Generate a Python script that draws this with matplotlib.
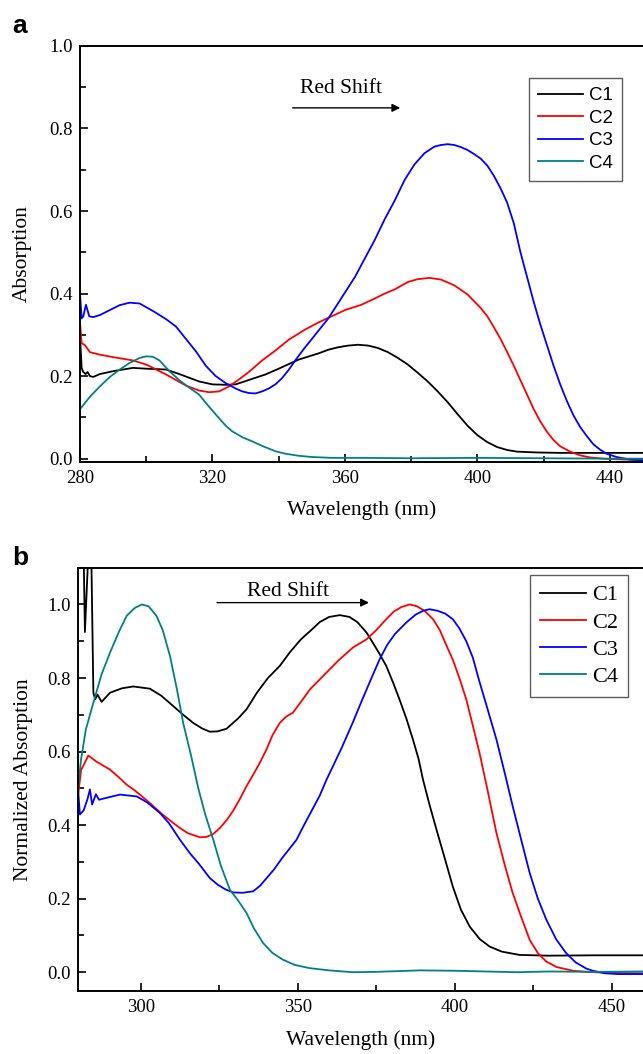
import numpy as np
import matplotlib
matplotlib.use("Agg")
import matplotlib.pyplot as plt
from matplotlib.ticker import MultipleLocator, FormatStrFormatter

plt.rcParams['font.family'] = 'serif'
plt.rcParams['font.serif'] = ['Liberation Serif', 'DejaVu Serif']

# ---- panel a : absorption ----
a_wl1 = [280, 280.5, 281, 281.7, 282.3, 283, 284, 286, 290, 296, 300, 306, 310, 316, 320, 324, 327, 330, 336,
         340, 346, 352, 355, 358, 361, 364, 367, 370, 373, 376, 379, 382, 385, 388, 391, 394, 397, 400, 403, 406,
         409, 412, 418, 425, 435, 450]
a_c1 = [0.30, 0.22, 0.21, 0.205, 0.21, 0.2, 0.198, 0.205, 0.212, 0.22, 0.218, 0.216, 0.205, 0.187, 0.18, 0.179,
        0.18, 0.188, 0.204, 0.218, 0.24, 0.255, 0.264, 0.27, 0.274, 0.276, 0.274, 0.268, 0.258, 0.244, 0.228, 0.208,
        0.187, 0.163, 0.137, 0.108, 0.08, 0.057, 0.04, 0.028, 0.021, 0.017, 0.015, 0.014, 0.014, 0.014]

a_wl2 = [280, 280.5, 281.5, 283, 286, 290, 296, 300, 306, 312, 316, 319, 322, 325, 328, 331, 335, 339, 343, 348,
         352, 356, 360, 365, 369, 372, 375, 379, 382, 385.5, 389, 393, 397, 401, 403, 405, 407, 409, 411, 413, 415,
         417, 419, 421, 423, 425, 428, 431, 434, 438, 444, 450]
a_c2 = [0.33, 0.28, 0.275, 0.258, 0.252, 0.246, 0.238, 0.228, 0.204, 0.177, 0.165, 0.161, 0.163, 0.175, 0.192,
        0.21, 0.238, 0.262, 0.288, 0.313, 0.33, 0.345, 0.36, 0.373, 0.388, 0.4, 0.41, 0.428, 0.435, 0.438, 0.434,
        0.42, 0.398, 0.365, 0.345, 0.318, 0.29, 0.258, 0.225, 0.19, 0.155, 0.12, 0.09, 0.065, 0.045, 0.03, 0.017,
        0.008, 0.003, 0.0, -0.002, -0.003]

a_wl3 = [280, 280.5, 281, 281.8, 282.8, 284, 286, 289, 292, 295, 298, 302, 306, 309, 312, 315, 318, 321, 324, 327,
         329, 331, 333, 335, 337, 339, 341, 343, 345, 347.5, 350, 352.5, 355, 357, 359, 361, 363, 366, 369, 372,
         375, 378, 381, 384, 387, 389, 391, 393, 395, 397, 399, 401, 403, 405, 407, 409, 411, 413, 415, 417, 419,
         421, 423, 425, 427, 429, 431, 433, 435, 437, 439, 442, 446, 450]
a_c3 = [0.40, 0.34, 0.345, 0.373, 0.345, 0.343, 0.348, 0.36, 0.372, 0.378, 0.376, 0.358, 0.338, 0.32, 0.29, 0.26,
        0.225, 0.2, 0.183, 0.17, 0.163, 0.159, 0.158, 0.163, 0.17, 0.18, 0.195, 0.215, 0.238, 0.265, 0.29, 0.315,
        0.34, 0.365, 0.39, 0.415, 0.44, 0.485, 0.53, 0.58, 0.625, 0.675, 0.713, 0.74, 0.756, 0.76, 0.762, 0.76,
        0.755, 0.748, 0.738, 0.727, 0.71, 0.685, 0.655, 0.62, 0.57, 0.5, 0.44, 0.38, 0.325, 0.275, 0.225, 0.18,
        0.14, 0.105, 0.077, 0.055, 0.035, 0.022, 0.012, 0.004, -0.002, -0.004]

a_wl4 = [280, 283, 286, 289, 292, 295, 298, 300, 302, 304, 307, 310, 313, 316, 318, 321, 324, 326, 329, 332, 335,
         339, 342, 346, 350, 356, 365, 380, 400, 420, 440, 450]
a_c4 = [0.12, 0.15, 0.175, 0.198, 0.216, 0.232, 0.244, 0.248, 0.247, 0.238, 0.212, 0.19, 0.172, 0.155, 0.135,
        0.107, 0.08, 0.066, 0.052, 0.042, 0.031, 0.018, 0.012, 0.007, 0.004, 0.002, 0.002, 0.001, 0.002, 0.001,
        0.0, 0.0]

# ---- panel b : normalized absorption ----
b_wl1 = [280, 281.5, 282.2, 283.6, 284.3, 284.9, 285.5, 286.2, 287.5, 290.2, 294, 297.6, 302.9, 306.5, 310.3,
         313.5, 316.7, 319.5, 322, 324.5, 327.3, 331, 333.7, 337, 340.5, 344.3, 347.5, 351, 354.9, 357, 360, 363.4,
         366.5, 369, 371.9, 374, 376.1, 378.2, 380.5, 382.5, 384.6, 386.7, 388.5, 389.9, 392, 394.2, 396.5, 399.4,
         402, 404.8, 408, 411.1, 415, 420.7, 430, 445, 460]
b_c1 = [1.6, 1.3, 0.925, 1.2, 1.1, 0.76, 0.742, 0.755, 0.735, 0.76, 0.772, 0.777, 0.771, 0.752, 0.724, 0.7, 0.678,
        0.663, 0.654, 0.655, 0.662, 0.69, 0.715, 0.76, 0.8, 0.833, 0.87, 0.905, 0.935, 0.952, 0.966, 0.971, 0.966,
        0.952, 0.924, 0.895, 0.865, 0.833, 0.785, 0.74, 0.69, 0.633, 0.58, 0.524, 0.455, 0.388, 0.32, 0.233, 0.17,
        0.124, 0.09, 0.07, 0.056, 0.047, 0.045, 0.046, 0.046]

b_wl2 = [280, 281, 283.3, 286, 290.2, 293, 295.5, 298, 302.9, 306.5, 310.3, 312.5, 315, 318.8, 321, 323.1, 325.2,
         327.5, 329.5, 331.5, 333.7, 335.8, 337.9, 340, 342, 344.3, 346.3, 348.5, 351, 354, 357, 360, 363, 367.6,
         371.9, 375, 378.2, 380.5, 383, 385.7, 388, 390.5, 393.1, 395.3, 397.3, 399.4, 401.5, 403.7, 405.8, 407.9,
         410.6, 413.3, 416, 418.5, 421.2, 423.9, 426.5, 429.2, 432.5, 437.7, 442, 450, 460]
b_c2 = [0.48, 0.55, 0.589, 0.572, 0.551, 0.53, 0.51, 0.495, 0.46, 0.432, 0.406, 0.392, 0.378, 0.367, 0.368, 0.376,
        0.392, 0.415, 0.44, 0.47, 0.506, 0.537, 0.569, 0.605, 0.645, 0.678, 0.695, 0.706, 0.735, 0.77, 0.796, 0.822,
        0.848, 0.883, 0.905, 0.93, 0.96, 0.98, 0.993, 1.0, 0.995, 0.982, 0.96, 0.93, 0.89, 0.85, 0.8, 0.742, 0.67,
        0.597, 0.49, 0.379, 0.29, 0.215, 0.15, 0.088, 0.052, 0.029, 0.014, 0.004, 0.001, -0.002, -0.003]

b_wl3 = [280, 280.6, 281.8, 283.0, 283.8, 284.5, 285.7, 286.7, 289, 293.4, 298.7, 302, 306.1, 309, 312.5, 315.6,
         318.5, 322, 324.5, 327, 329.4, 332.5, 335.8, 338, 340.1, 342.5, 345, 347.3, 349.6, 352, 354.5, 357, 359.2,
         361.5, 364, 367.6, 370.5, 373.5, 376.1, 378.5, 381, 384.6, 387.5, 390, 392, 394.5, 397, 399.4, 401.5,
         403.7, 405.8, 407.9, 410.5, 413.3, 416, 418.5, 421.2, 423.9, 426.5, 429.2, 432.3, 435.5, 438.5, 441.9,
         444, 448, 452, 460]
b_c3 = [0.5, 0.429, 0.44, 0.47, 0.497, 0.456, 0.484, 0.469, 0.474, 0.483, 0.478, 0.462, 0.433, 0.405, 0.36, 0.324,
        0.295, 0.256, 0.238, 0.225, 0.217, 0.216, 0.22, 0.235, 0.256, 0.28, 0.31, 0.335, 0.36, 0.4, 0.44, 0.48,
        0.524, 0.565, 0.61, 0.68, 0.74, 0.8, 0.851, 0.89, 0.92, 0.951, 0.972, 0.983, 0.987, 0.983, 0.975, 0.96,
        0.935, 0.9, 0.855, 0.79, 0.715, 0.633, 0.54, 0.451, 0.36, 0.27, 0.2, 0.143, 0.09, 0.052, 0.027, 0.01,
        0.004, -0.003, -0.005, -0.005]

b_wl4 = [280, 281, 282.5, 284.9, 287.5, 290.2, 293, 295.5, 298, 300.3, 302.5, 305, 307, 309.3, 311.5, 313.5, 316,
         318.3, 320.5, 323.1, 325.5, 328.4, 331, 333.7, 336, 339, 342, 345.3, 349, 353.8, 360, 367.6, 375, 388.8,
         400, 410, 420, 430, 445, 460]
b_c4 = [0.5, 0.58, 0.66, 0.733, 0.81, 0.869, 0.925, 0.969, 0.99, 1.0, 0.995, 0.969, 0.93, 0.86, 0.77, 0.678, 0.59,
        0.501, 0.43, 0.36, 0.29, 0.224, 0.195, 0.161, 0.12, 0.079, 0.052, 0.034, 0.02, 0.011, 0.005, 0.0, 0.001,
        0.005, 0.004, 0.002, 0.0, 0.002, 0.001, 0.002]

labels = ['C1', 'C2', 'C3', 'C4']
colors = ['#000000', '#ff0000', '#0000ff', '#008080']

fig = plt.figure(figsize=(6.43, 10.54), dpi=100)
axa = fig.add_axes([0.1244, 0.5617, 0.8756, 0.3947])
axb = fig.add_axes([0.1213, 0.0598, 0.8787, 0.4016])

def style(ax, xmaj, xmin, ymaj, ymin):
    for s in ['left', 'bottom', 'top']:
        ax.spines[s].set_linewidth(1.4)
    ax.spines['right'].set_visible(False)
    ax.xaxis.set_major_locator(MultipleLocator(xmaj))
    ax.xaxis.set_minor_locator(MultipleLocator(xmin))
    ax.yaxis.set_major_locator(MultipleLocator(ymaj))
    ax.yaxis.set_minor_locator(MultipleLocator(ymin))
    ax.tick_params(which='both', direction='in', top=False, right=False, width=1.2, labelsize=13.5)
    ax.tick_params(which='major', length=6)
    ax.tick_params(which='minor', length=4.5)
    ax.tick_params(axis='x', pad=6)
    ax.tick_params(axis='y', pad=5)
    ax.yaxis.set_major_formatter(FormatStrFormatter('%.1f'))

# panel a
for wl, y, lab, c in zip([a_wl1, a_wl2, a_wl3, a_wl4], [a_c1, a_c2, a_c3, a_c4], labels, colors):
    axa.plot(wl, y, color=c, lw=1.3, label=lab)
axa.set_xlim(280, 450)
axa.set_ylim(-0.008, 1.0)
style(axa, 40, 20, 0.2, 0.1)
axa.set_xlabel('Wavelength (nm)', fontsize=15.5)
axa.set_ylabel('Absorption', fontsize=15.5)
axa.xaxis.set_label_coords(0.5, -0.115)
axa.xaxis.label.set_va('center')
axa.yaxis.set_label_coords(-0.103, 0.5)
axa.yaxis.label.set_va('center')
axa.annotate('', xy=(376.7, 0.85), xytext=(344.2, 0.85),
             arrowprops=dict(arrowstyle='-|>', color='k', lw=1, mutation_scale=12, shrinkA=0, shrinkB=0))
axa.text(358.9, 0.898, 'Red Shift', fontsize=15.5, ha='center', va='center')
lega = axa.legend(loc='upper right', bbox_to_anchor=(0.963, 0.923), borderaxespad=0,
                  prop={'family': 'Liberation Sans', 'size': 13.5}, frameon=True, fancybox=False,
                  handlelength=2.4, handletextpad=0.3, labelspacing=0.28, borderpad=0.5)
lega.get_frame().set_edgecolor('#333333')
lega.get_frame().set_linewidth(1.0)

# panel b
for wl, y, lab, c in zip([b_wl1, b_wl2, b_wl3, b_wl4], [b_c1, b_c2, b_c3, b_c4], labels, colors):
    axb.plot(wl, y, color=c, lw=1.3, label=lab)
axb.set_xlim(280, 460)
axb.set_ylim(-0.051, 1.10)
style(axb, 50, 25, 0.2, 0.1)
axb.set_xlabel('Wavelength (nm)', fontsize=15.5)
axb.set_ylabel('Normalized Absorption', fontsize=15.5)
axb.xaxis.set_label_coords(0.5, -0.116)
axb.xaxis.label.set_va('center')
axb.yaxis.set_label_coords(-0.0965, 0.5)
axb.yaxis.label.set_va('center')
axb.annotate('', xy=(372.7, 1.005), xytext=(324.3, 1.005),
             arrowprops=dict(arrowstyle='-|>', color='k', lw=1, mutation_scale=12, shrinkA=0, shrinkB=0))
axb.text(346.9, 1.035, 'Red Shift', fontsize=15.5, ha='center', va='center')
legb = axb.legend(loc='upper right', bbox_to_anchor=(0.973, 0.983), borderaxespad=0,
                  prop={'family': 'Liberation Serif', 'size': 16}, frameon=True, fancybox=False,
                  handlelength=2.05, handletextpad=0.26, labelspacing=0.3, borderpad=0.45)
legb.get_frame().set_edgecolor('#333333')
legb.get_frame().set_linewidth(1.0)

fig.text(12 / 643, 1 - 33 / 1054, 'a', fontsize=19, fontweight='bold', family='Liberation Sans',
         ha='left', va='baseline')
fig.text(12 / 643, 1 - 565 / 1054, 'b', fontsize=19, fontweight='bold', family='Liberation Sans',
         ha='left', va='baseline')

fig.savefig('out.png', dpi=100)
